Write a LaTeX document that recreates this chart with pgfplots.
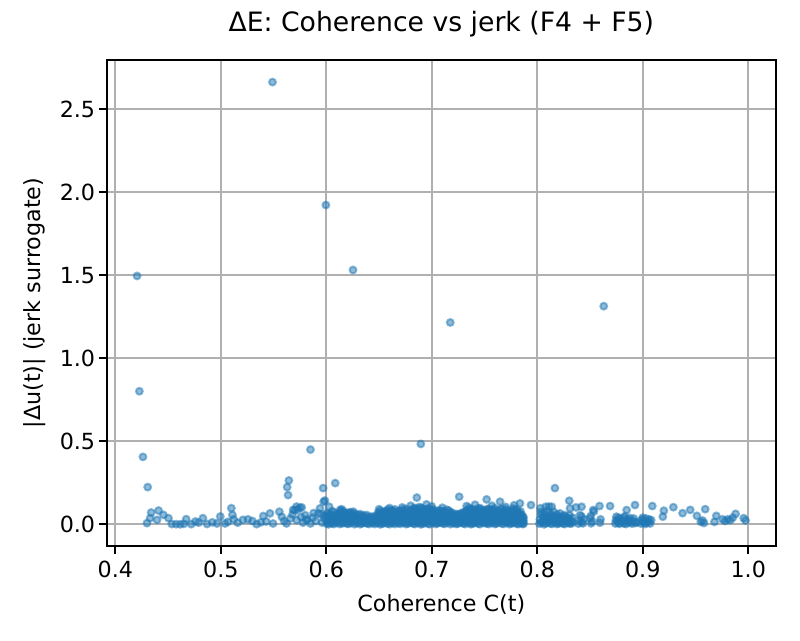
\documentclass[border=0pt]{standalone}
\usepackage{fontspec}
\setmainfont{DejaVu Sans}
\usepackage{pgfplots}
\pgfplotsset{compat=1.18}
\definecolor{mplblue}{HTML}{1F77B4}
\definecolor{gridgray}{HTML}{B0B0B0}

\pgfplotstableread{
x y
0.4206 1.495
0.4228 0.801
0.4262 0.406
0.4307 0.224
0.5490 2.662
0.5996 1.922
0.6253 1.531
0.7175 1.215
0.8630 1.313
0.5850 0.450
0.6896 0.484
0.5645 0.264
0.5629 0.224
0.5638 0.176
0.5970 0.218
0.6085 0.248
0.5987 0.143
0.6858 0.161
0.8167 0.218
0.4300 0.007
0.4330 0.037
0.4340 0.071
0.4396 0.027
0.4410 0.083
0.4456 0.057
0.4504 0.037
0.4535 0.002
0.4577 0.001
0.4615 0.000
0.4650 0.003
0.4672 0.031
0.4720 0.001
0.4760 0.017
0.4790 0.010
0.4830 0.037
0.4870 0.002
0.4920 0.012
0.4963 0.005
0.4995 0.047
0.5040 0.005
0.5068 0.015
0.5100 0.097
0.5110 0.057
0.5122 0.030
0.5160 0.010
0.5210 0.027
0.5258 0.030
0.5300 0.020
0.5340 0.001
0.5380 0.012
0.5403 0.050
0.5430 0.017
0.5466 0.066
0.5495 0.005
0.5555 0.076
0.5578 0.045
0.5600 0.020
0.5623 0.005
0.5660 0.035
0.5686 0.087
0.5700 0.085
0.5718 0.107
0.5750 0.100
0.5730 0.090
0.5680 0.060
0.5720 0.025
0.5760 0.045
0.5767 0.102
0.5780 0.010
0.5800 0.055
0.5810 0.026
0.5820 0.030
0.5850 0.005
0.5870 0.040
0.5880 0.068
0.5900 0.020
0.5924 0.066
0.5940 0.096
0.5950 0.060
0.5960 0.010
0.5980 0.035
0.5975 0.136
0.5985 0.052
0.6027 0.106
0.6130 0.086
0.6256 0.076
0.6145 0.091
0.6383 0.056
0.6500 0.091
0.6600 0.098
0.6720 0.102
0.6800 0.112
0.6950 0.120
0.7000 0.108
0.7100 0.100
0.7260 0.166
0.7330 0.110
0.7410 0.118
0.7520 0.150
0.7570 0.112
0.7647 0.136
0.7700 0.105
0.7780 0.115
0.7836 0.126
0.7940 0.116
0.6005 0.004
0.6005 0.021
0.6005 0.046
0.6005 0.068
0.6040 0.010
0.6040 0.033
0.6040 0.058
0.6072 0.002
0.6072 0.026
0.6072 0.049
0.6072 0.072
0.6110 0.015
0.6110 0.039
0.6110 0.061
0.6143 0.006
0.6143 0.028
0.6143 0.052
0.6143 0.075
0.6180 0.012
0.6180 0.036
0.6180 0.064
0.6212 0.003
0.6212 0.024
0.6212 0.047
0.6212 0.070
0.6250 0.017
0.6250 0.041
0.6250 0.058
0.6283 0.007
0.6283 0.030
0.6283 0.053
0.6320 0.001
0.6320 0.020
0.6320 0.044
0.6320 0.062
0.6352 0.011
0.6352 0.034
0.6352 0.055
0.6390 0.005
0.6390 0.025
0.6390 0.043
0.6423 0.014
0.6423 0.031
0.6423 0.046
0.6460 0.002
0.6460 0.019
0.6460 0.040
0.6493 0.009
0.6493 0.027
0.6493 0.050
0.6493 0.071
0.6530 0.004
0.6530 0.022
0.6530 0.045
0.6530 0.068
0.6562 0.013
0.6562 0.037
0.6562 0.060
0.6562 0.079
0.6600 0.001
0.6600 0.025
0.6600 0.048
0.6600 0.073
0.6633 0.008
0.6633 0.032
0.6633 0.056
0.6633 0.081
0.6670 0.016
0.6670 0.040
0.6670 0.064
0.6702 0.003
0.6702 0.027
0.6702 0.051
0.6702 0.077
0.6740 0.010
0.6740 0.035
0.6740 0.059
0.6740 0.083
0.6772 0.005
0.6772 0.021
0.6772 0.047
0.6772 0.070
0.6810 0.012
0.6810 0.038
0.6810 0.062
0.6810 0.086
0.6842 0.002
0.6842 0.029
0.6842 0.054
0.6842 0.078
0.6842 0.098
0.6880 0.009
0.6880 0.033
0.6880 0.058
0.6880 0.084
0.6880 0.104
0.6912 0.004
0.6912 0.024
0.6912 0.049
0.6912 0.075
0.6912 0.095
0.6950 0.015
0.6950 0.041
0.6950 0.066
0.6950 0.090
0.6982 0.001
0.6982 0.027
0.6982 0.052
0.6982 0.079
0.7020 0.011
0.7020 0.036
0.7020 0.061
0.7020 0.085
0.7052 0.006
0.7052 0.030
0.7052 0.055
0.7052 0.077
0.7090 0.013
0.7090 0.039
0.7090 0.064
0.7090 0.080
0.7122 0.003
0.7122 0.025
0.7122 0.050
0.7122 0.074
0.7160 0.017
0.7160 0.042
0.7160 0.066
0.7160 0.083
0.7192 0.008
0.7192 0.031
0.7192 0.054
0.7192 0.070
0.7230 0.002
0.7230 0.022
0.7230 0.045
0.7230 0.062
0.7262 0.012
0.7262 0.035
0.7262 0.058
0.7300 0.005
0.7300 0.028
0.7300 0.052
0.7300 0.071
0.7332 0.014
0.7332 0.039
0.7332 0.063
0.7332 0.085
0.7370 0.001
0.7370 0.026
0.7370 0.050
0.7370 0.076
0.7370 0.092
0.7402 0.009
0.7402 0.034
0.7402 0.059
0.7402 0.083
0.7440 0.004
0.7440 0.029
0.7440 0.053
0.7440 0.078
0.7440 0.095
0.7472 0.016
0.7472 0.041
0.7472 0.067
0.7472 0.088
0.7510 0.007
0.7510 0.032
0.7510 0.056
0.7510 0.081
0.7542 0.002
0.7542 0.024
0.7542 0.048
0.7542 0.074
0.7542 0.093
0.7580 0.012
0.7580 0.037
0.7580 0.062
0.7580 0.086
0.7612 0.005
0.7612 0.030
0.7612 0.054
0.7612 0.079
0.7650 0.018
0.7650 0.043
0.7650 0.068
0.7650 0.090
0.7682 0.003
0.7682 0.026
0.7682 0.051
0.7682 0.075
0.7720 0.010
0.7720 0.035
0.7720 0.060
0.7720 0.084
0.7752 0.006
0.7752 0.029
0.7752 0.053
0.7752 0.077
0.7790 0.014
0.7790 0.038
0.7790 0.063
0.7790 0.087
0.7822 0.002
0.7822 0.024
0.7822 0.049
0.7822 0.072
0.7855 0.009
0.7855 0.031
0.7855 0.055
0.7870 0.004
0.7870 0.020
0.7870 0.040
0.6022 0.000
0.6022 0.014
0.6022 0.038
0.6022 0.060
0.6057 0.006
0.6057 0.029
0.6057 0.052
0.6057 0.079
0.6091 0.011
0.6091 0.034
0.6091 0.057
0.6126 0.002
0.6126 0.021
0.6126 0.045
0.6126 0.068
0.6161 0.008
0.6161 0.031
0.6161 0.055
0.6161 0.080
0.6196 0.004
0.6196 0.019
0.6196 0.042
0.6196 0.066
0.6231 0.010
0.6231 0.033
0.6231 0.050
0.6231 0.073
0.6266 0.001
0.6266 0.024
0.6266 0.046
0.6266 0.065
0.6301 0.013
0.6301 0.036
0.6301 0.057
0.6336 0.005
0.6336 0.027
0.6336 0.049
0.6371 0.009
0.6371 0.018
0.6371 0.037
0.6406 0.002
0.6406 0.022
0.6406 0.040
0.6441 0.007
0.6441 0.026
0.6441 0.045
0.6476 0.012
0.6476 0.033
0.6476 0.055
0.6511 0.000
0.6511 0.019
0.6511 0.041
0.6511 0.063
0.6511 0.082
0.6546 0.008
0.6546 0.030
0.6546 0.053
0.6546 0.074
0.6581 0.004
0.6581 0.021
0.6581 0.044
0.6581 0.068
0.6581 0.088
0.6616 0.011
0.6616 0.035
0.6616 0.060
0.6616 0.084
0.6651 0.002
0.6651 0.026
0.6651 0.050
0.6651 0.072
0.6651 0.090
0.6686 0.007
0.6686 0.031
0.6686 0.055
0.6686 0.080
0.6721 0.013
0.6721 0.038
0.6721 0.063
0.6721 0.088
0.6756 0.001
0.6756 0.022
0.6756 0.046
0.6756 0.071
0.6756 0.093
0.6791 0.009
0.6791 0.033
0.6791 0.057
0.6791 0.082
0.6826 0.004
0.6826 0.025
0.6826 0.050
0.6826 0.074
0.6826 0.096
0.6861 0.012
0.6861 0.037
0.6861 0.062
0.6861 0.088
0.6896 0.000
0.6896 0.020
0.6896 0.045
0.6896 0.070
0.6896 0.100
0.6931 0.008
0.6931 0.032
0.6931 0.058
0.6931 0.083
0.6966 0.003
0.6966 0.024
0.6966 0.048
0.6966 0.074
0.6966 0.095
0.7001 0.015
0.7001 0.039
0.7001 0.064
0.7001 0.090
0.7036 0.002
0.7036 0.021
0.7036 0.046
0.7036 0.071
0.7071 0.010
0.7071 0.034
0.7071 0.059
0.7071 0.085
0.7106 0.005
0.7106 0.028
0.7106 0.052
0.7106 0.076
0.7141 0.012
0.7141 0.037
0.7141 0.061
0.7141 0.088
0.7176 0.001
0.7176 0.023
0.7176 0.047
0.7176 0.072
0.7211 0.009
0.7211 0.032
0.7211 0.053
0.7246 0.004
0.7246 0.017
0.7246 0.040
0.7246 0.060
0.7281 0.011
0.7281 0.030
0.7281 0.049
0.7281 0.068
0.7316 0.002
0.7316 0.024
0.7316 0.046
0.7316 0.075
0.7351 0.008
0.7351 0.033
0.7351 0.058
0.7351 0.082
0.7351 0.100
0.7386 0.004
0.7386 0.020
0.7386 0.044
0.7386 0.069
0.7386 0.090
0.7421 0.013
0.7421 0.038
0.7421 0.064
0.7421 0.086
0.7456 0.001
0.7456 0.025
0.7456 0.050
0.7456 0.074
0.7456 0.098
0.7491 0.009
0.7491 0.034
0.7491 0.059
0.7491 0.084
0.7526 0.005
0.7526 0.021
0.7526 0.045
0.7526 0.069
0.7526 0.092
0.7561 0.012
0.7561 0.036
0.7561 0.061
0.7561 0.085
0.7596 0.002
0.7596 0.027
0.7596 0.052
0.7596 0.076
0.7596 0.097
0.7631 0.010
0.7631 0.033
0.7631 0.057
0.7631 0.082
0.7666 0.004
0.7666 0.023
0.7666 0.047
0.7666 0.072
0.7666 0.094
0.7701 0.014
0.7701 0.039
0.7701 0.063
0.7701 0.089
0.7736 0.001
0.7736 0.026
0.7736 0.050
0.7736 0.074
0.7771 0.008
0.7771 0.032
0.7771 0.057
0.7771 0.081
0.7771 0.096
0.7806 0.003
0.7806 0.020
0.7806 0.044
0.7806 0.068
0.7806 0.090
0.7841 0.011
0.7841 0.035
0.7841 0.060
0.7841 0.078
0.7862 0.002
0.7862 0.026
0.7862 0.046
0.8020 0.004
0.8025 0.030
0.8050 0.015
0.8055 0.045
0.8080 0.006
0.8085 0.030
0.8080 0.055
0.8110 0.018
0.8115 0.042
0.8140 0.003
0.8145 0.027
0.8140 0.052
0.8170 0.012
0.8175 0.037
0.8200 0.005
0.8205 0.024
0.8200 0.048
0.8230 0.016
0.8235 0.040
0.8260 0.002
0.8265 0.028
0.8260 0.055
0.8290 0.010
0.8295 0.035
0.8320 0.004
0.8325 0.022
0.8035 0.010
0.8035 0.058
0.8035 0.075
0.8065 0.000
0.8065 0.035
0.8065 0.068
0.8095 0.012
0.8095 0.040
0.8095 0.080
0.8125 0.005
0.8125 0.030
0.8125 0.062
0.8155 0.018
0.8155 0.046
0.8155 0.075
0.8185 0.002
0.8185 0.028
0.8185 0.060
0.8215 0.010
0.8215 0.036
0.8215 0.066
0.8245 0.004
0.8245 0.025
0.8245 0.050
0.8275 0.015
0.8275 0.042
0.8305 0.006
0.8305 0.030
0.8305 0.055
0.8335 0.012
0.8335 0.040
0.8030 0.097
0.8080 0.106
0.8110 0.107
0.8137 0.106
0.8303 0.142
0.8310 0.096
0.8367 0.102
0.8420 0.106
0.8390 0.004
0.8400 0.022
0.8405 0.056
0.8420 0.012
0.8434 0.006
0.8440 0.030
0.8420 0.047
0.8500 0.036
0.8506 0.050
0.8510 0.006
0.8522 0.017
0.8530 0.086
0.8537 0.077
0.8590 0.110
0.8594 0.010
0.8600 0.030
0.8690 0.110
0.8740 0.005
0.8750 0.046
0.8760 0.020
0.8780 0.003
0.8790 0.032
0.8810 0.012
0.8820 0.040
0.8840 0.002
0.8847 0.086
0.8850 0.025
0.8870 0.010
0.8880 0.038
0.8900 0.004
0.8910 0.020
0.8926 0.116
0.8930 0.008
0.8745 0.025
0.8770 0.040
0.8770 0.008
0.8800 0.022
0.8825 0.005
0.8830 0.048
0.8860 0.030
0.8890 0.015
0.8915 0.035
0.8945 0.012
0.8980 0.005
0.8990 0.028
0.9000 0.020
0.9000 0.040
0.9010 0.012
0.9020 0.002
0.9030 0.035
0.9040 0.008
0.9050 0.018
0.9060 0.030
0.9070 0.005
0.9080 0.025
0.9090 0.110
0.9190 0.046
0.9200 0.082
0.9290 0.103
0.9377 0.067
0.9450 0.087
0.9513 0.051
0.9550 0.015
0.9567 0.023
0.9580 0.008
0.9592 0.091
0.9680 0.015
0.9697 0.051
0.9757 0.030
0.9780 0.020
0.9805 0.030
0.9830 0.025
0.9853 0.040
0.9880 0.063
0.9957 0.037
0.9975 0.023
}\datatable

\begin{document}
\begin{tikzpicture}
\begin{axis}[
  scale only axis,
  width=301.2pt, height=218.7pt,
  xmin=0.3918, xmax=1.0263,
  ymin=-0.1306, ymax=2.795,
  xtick={0.4,0.5,0.6,0.7,0.8,0.9,1.0},
  ytick={0,0.5,1.0,1.5,2.0,2.5},
  /pgf/number format/.cd, fixed, fixed zerofill, precision=1, assume math mode=true,
  /pgfplots/.cd,
  tick align=outside,
  xtick pos=bottom, ytick pos=left,
  major tick length=3.5pt,
  tick style={black, line width=0.8pt},
  axis line style={black, line width=0.8pt},
  grid=major,
  major grid style={gridgray, line width=0.8pt},
  tick label style={font=\fontsize{10}{12}\selectfont, inner sep=0pt},
  xticklabel style={anchor=north, yshift=-3pt},
  yticklabel style={anchor=east, xshift=-1.5pt},
  title={ΔE: Coherence vs jerk (F4 + F5)},
  title style={font=\fontsize{12}{14}\selectfont, at={(axis description cs:0.5,1.0309)}, anchor=base, inner sep=0pt},
  xlabel={Coherence C(t)},
  xlabel style={font=\fontsize{10}{12}\selectfont, at={(axis description cs:0.5,-0.1337)}, anchor=base, inner sep=0pt},
  ylabel={|Δu(t)| (jerk surrogate)},
  ylabel style={font=\fontsize{10}{12}\selectfont, at={(axis description cs:-0.0989,0.5)}, anchor=base, inner sep=0pt},
]
\addplot[only marks, mark=*, mark size=1.55pt,
  mark options={draw=mplblue, fill=mplblue, draw opacity=0.5, fill opacity=0.5, line width=0.9pt}]
  table[x=x, y=y] {\datatable};
\end{axis}
\pgfresetboundingbox
\path ([shift={(-48pt,-42.3pt)}]current axis.south west) rectangle ([shift={(10.8pt,27pt)}]current axis.north east);
\end{tikzpicture}
\end{document}
